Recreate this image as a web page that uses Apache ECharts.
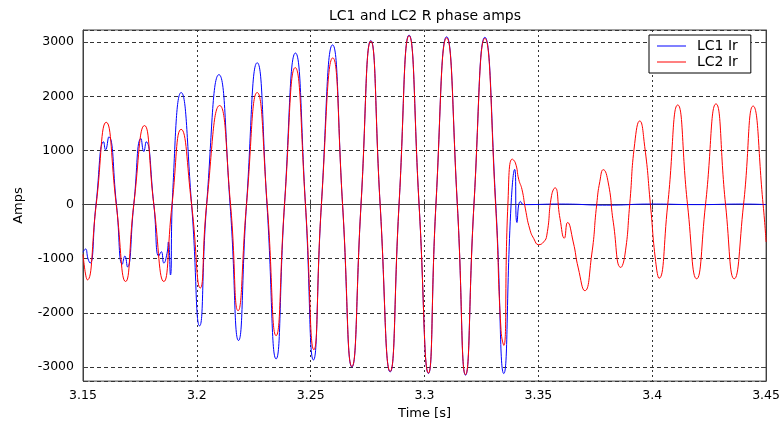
<!DOCTYPE html>
<html>
<head>
<meta charset="utf-8">
<script src="https://cdn.jsdelivr.net/npm/echarts@6/dist/echarts.min.js"></script>
<style>
html,body{margin:0;padding:0;background:#fff;}
#chart{width:783px;height:425px;}
</style>
</head>
<body>
<div id="chart"></div>
<script>
// ---- data ----
var titleText = 'LC1 and LC2 R phase amps';
var seriesNames = ['LC1 Ir', 'LC2 Ir'];
var xTicks = [3.15, 3.2, 3.25, 3.3, 3.35, 3.4, 3.45];
var yTicks = [-3000, -2000, -1000, 0, 1000, 2000, 3000];

// LC1 Ir (blue)
var lc1Time = [3.1500,3.1511,3.1522,3.1531,3.1557,3.1591,3.1599,3.1613,3.1647,3.1673,3.1684,3.1695,3.1723,3.1755,3.1767,3.1777,3.1811,3.1833,3.1844,3.1855,3.1869,3.1875,3.1884,3.1894,3.1931,3.1977,3.2012,3.2043,3.2097,3.2146,3.2183,3.2218,3.2265,3.2308,3.2348,3.2385,3.2433,3.2477,3.2512,3.2547,3.2596,3.2640,3.2681,3.2721,3.2764,3.2805,3.2849,3.2888,3.2932,3.2976,3.3017,3.3050,3.3097,3.3144,3.3180,3.3217,3.3265,3.3313,3.3348,3.3380,3.3396,3.3406,3.3421,3.3436,3.3600,3.3800,3.4000,3.4200,3.4400,3.4500];
var lc1Amps = [-880,-820,-1000,-1080,0,1160,1010,1250,0,-1100,-950,-1150,0,1220,980,1160,0,-950,-870,-1080,-900,-690,-1300,220,2070,0,-2240,0,2400,0,-2510,0,2620,0,-2850,0,2800,0,-2870,0,2950,0,-3000,0,3030,0,-3090,0,3130,0,-3120,0,3100,0,-3150,0,3090,0,-3120,0,650,-330,60,0,10,-10,10,0,10,0];

// LC2 Ir (red)
var lc2Time = [3.1500,3.1519,3.1558,3.1602,3.1646,3.1687,3.1723,3.1770,3.1811,3.1855,3.1891,3.1931,3.1977,3.2015,3.2043,3.2100,3.2148,3.2181,3.2218,3.2265,3.2309,3.2348,3.2385,3.2432,3.2477,3.2514,3.2547,3.2597,3.2640,3.2681,3.2721,3.2764,3.2805,3.2849,3.2888,3.2932,3.2976,3.3017,3.3050,3.3097,3.3144,3.3180,3.3217,3.3265,3.3312,3.3336,3.3348,3.3366,3.3385,3.3399,3.3414,3.3428,3.3443,3.3462,3.3480,3.3501,3.3523,3.3537,3.3558,3.3573,3.3595,3.3614,3.3628,3.3653,3.3675,3.3704,3.3734,3.3756,3.3770,3.3785,3.3807,3.3829,3.3862,3.3880,3.3901,3.3923,3.3945,3.3967,3.3992,3.4015,3.4030,3.4068,3.4112,3.4155,3.4195,3.4234,3.4280,3.4322,3.4360,3.4401,3.4443,3.4487,3.4500];
var lc2Amps = [-920,-1390,0,1520,0,-1420,0,1460,0,-1420,0,1390,0,-1540,0,1830,0,-1960,0,2070,0,-2420,0,2530,0,-2680,0,2710,0,-2990,0,3020,0,-3080,0,3120,0,-3110,0,3080,0,-3140,0,3070,0,-2330,-2600,0,840,770,460,280,-80,-450,-630,-740,-690,-565,170,310,-260,-620,-330,-690,-1170,-1590,-930,0,430,645,400,-325,-1160,-930,0,1130,1545,1070,0,-1050,-1360,0,1840,0,-1370,0,1860,0,-1370,0,1820,0,-690];

var yMin = -3260, yMax = 3225;

function pairs(t, v) {
  var out = [];
  for (var i = 0; i < t.length; i++) out.push([t[i], v[i]]);
  return out;
}

var FONT = 'DejaVu Sans';
var chart = echarts.init(document.getElementById('chart'), null, {renderer: 'canvas'});
var option = {
  animation: false,
  backgroundColor: '#fff',
  title: {
    text: titleText,
    left: 425, top: 9, padding: 0, textAlign: 'center',
    textStyle: {fontFamily: FONT, fontSize: 14, fontWeight: 'normal', color: '#000'}
  },
  legend: {
    orient: 'vertical', left: 649, top: 35,
    padding: [4, 13, 4, 8], itemWidth: 29, itemHeight: 14, itemGap: 2,
    icon: 'path://M0,0 L29,0 L29,1 L0,1 Z',
    borderColor: '#000', borderWidth: 1, backgroundColor: '#fff',
    textStyle: {fontFamily: FONT, fontSize: 14, color: '#000', padding: [0, 0, 0, 6]},
    data: seriesNames
  },
  grid: {left: 83, right: 15, top: 30, bottom: 38, show: true, borderColor: '#404040', borderWidth: 1, backgroundColor: 'transparent'},
  xAxis: [{
    type: 'value', min: xTicks[0], max: xTicks[xTicks.length - 1], interval: 0.05,
    name: 'Time [s]', nameLocation: 'middle', nameGap: 24,
    nameTextStyle: {fontFamily: FONT, fontSize: 13, color: '#000'},
    axisLine: {show: true, lineStyle: {color: '#404040'}},
    axisTick: {show: true, inside: true, length: 5, lineStyle: {color: '#404040'}},
    axisLabel: {fontFamily: FONT, fontSize: 12.5, color: '#000', margin: 8, showMinLabel: true, showMaxLabel: true,
      formatter: function (v) { return String(Math.round(v * 100) / 100); }},
    splitLine: {show: true, lineStyle: {color: '#333', width: 1, type: [2, 3]}}
  }, {
    type: 'value', position: 'top', min: xTicks[0], max: xTicks[xTicks.length - 1], interval: 0.05,
    axisLine: {show: true, lineStyle: {color: '#404040'}},
    axisTick: {show: true, inside: true, length: 5, lineStyle: {color: '#404040'}},
    axisLabel: {show: false}, splitLine: {show: false}
  }],
  yAxis: [{
    type: 'value', min: yMin, max: yMax, splitNumber: 5,
    name: 'Amps', nameLocation: 'middle', nameGap: 58, nameRotate: 90,
    nameTextStyle: {fontFamily: FONT, fontSize: 13, color: '#000'},
    axisLine: {show: true, lineStyle: {color: '#404040'}},
    axisTick: {show: true, inside: true, length: 5, lineStyle: {color: '#404040'}},
    axisLabel: {fontFamily: FONT, fontSize: 12.5, color: '#000', margin: 9, showMinLabel: true, showMaxLabel: true,
      formatter: function (v) { return yTicks.indexOf(Math.round(v)) >= 0 && Math.abs(v - Math.round(v)) < 1e-6 ? String(Math.round(v)) : ''; }},
    splitLine: {show: true, lineStyle: {color: '#333', width: 1, type: [4, 3]}}
  }, {
    type: 'value', position: 'right', min: yMin, max: yMax, splitNumber: 5,
    axisLine: {show: true, lineStyle: {color: '#404040'}},
    axisTick: {show: true, inside: true, length: 5, lineStyle: {color: '#404040'}},
    axisLabel: {show: false}, splitLine: {show: false}
  }],
  series: [{
    name: seriesNames[0], type: 'line', xAxisIndex: 0, yAxisIndex: 0,
    data: pairs(lc1Time, lc1Amps), symbol: 'none', smooth: 0.55,
    lineStyle: {color: '#0000ff', width: 1}, itemStyle: {color: '#0000ff'}, z: 2
  }, {
    name: seriesNames[1], type: 'line', xAxisIndex: 0, yAxisIndex: 0,
    data: pairs(lc2Time, lc2Amps), symbol: 'none', smooth: 0.55,
    lineStyle: {color: '#ff0000', width: 1}, itemStyle: {color: '#ff0000'}, z: 3
  }]
};
chart.setOption(option);
</script>
</body>
</html>
